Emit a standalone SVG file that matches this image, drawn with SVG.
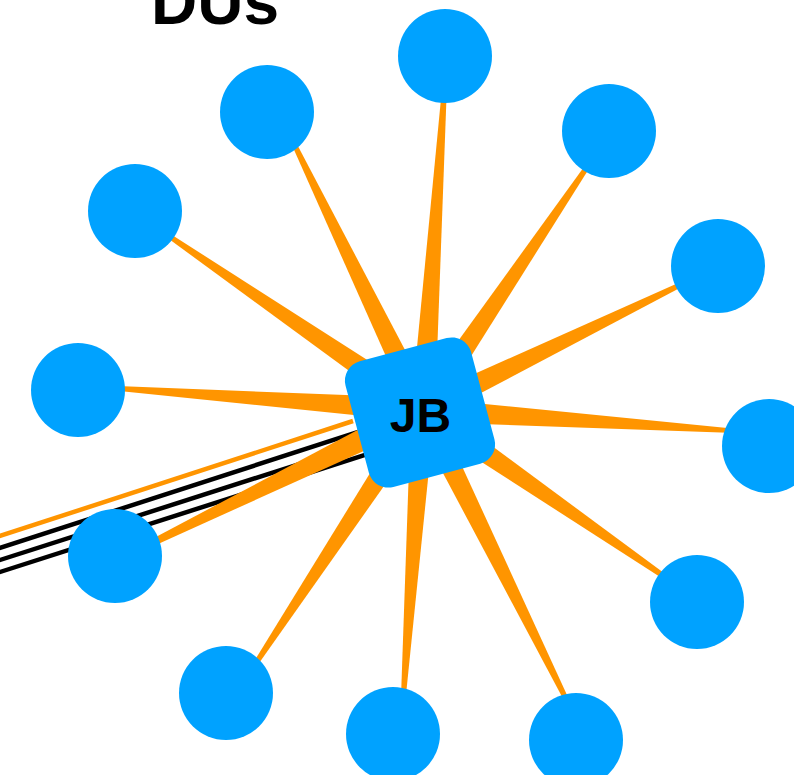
<svg xmlns="http://www.w3.org/2000/svg" width="794" height="775" viewBox="0 0 794 775">
  <style>
    .du { fill: #00A2FF; }
    .hub { fill: #00A2FF; }
    .wedge { fill: #FF9500; }
    .link { stroke: #000000; stroke-width: 4.5; fill: none; }
    .link-o { stroke: #FF9500; stroke-width: 4.5; fill: none; }
    .label { font-family: "Liberation Sans", Arial, Helvetica, sans-serif; font-weight: bold; fill: #000000; }
  </style>

  <rect width="794" height="775" fill="#ffffff"/>

  <text class="label" x="151" y="24" font-size="64">DUs</text>

  <g id="connectors">
    <!-- lines leaving to the left -->
    <line class="link" x1="-5" y1="549.6" x2="400" y2="418.4"/>
    <line class="link" x1="-5" y1="561.6" x2="400" y2="431.8"/>
    <line class="link" x1="-5" y1="573.6" x2="400" y2="443.7"/>
    <line class="link-o" x1="-5" y1="537.6" x2="353" y2="421"/>

    <!-- tapered spokes from JB to each DU, drawn along +x then rotated -->
    <g class="wedge">
      <polygon transform="translate(423,410) rotate(-86.19)" points="0,-12 336,-2 336,2 0,12"/>
      <polygon transform="translate(423,410) rotate(-115.86)" points="0,-12 309,-2 309,2 0,12"/>
      <polygon transform="translate(423,410) rotate(-55.98)" points="0,-12 310,-2 310,2 0,12"/>
      <polygon transform="translate(423,410) rotate(-145.58)" points="0,-12 324,-2 324,2 0,12"/>
      <polygon transform="translate(423,410) rotate(-25.94)" points="0,-12 304,-2 304,2 0,12"/>
      <polygon transform="translate(423,410) rotate(-175.97)" points="0,-12 319,-2 319,2 0,12"/>
      <polygon transform="translate(423,410) rotate(3.83)" points="0,-12 320,-2 320,2 0,12"/>
      <polygon transform="translate(423,410) rotate(153.87)" points="0,-13 315,-3 315,3 0,13"/>
      <polygon transform="translate(423,410) rotate(34.61)" points="0,-12 314,-2 314,2 0,12"/>
      <polygon transform="translate(423,410) rotate(123.43)" points="0,-12 320,-2 320,2 0,12"/>
      <polygon transform="translate(423,410) rotate(93.91)" points="0,-12 299,-2 299,2 0,12"/>
      <polygon transform="translate(423,410) rotate(63.67)" points="0,-12 340,-2 340,2 0,12"/>
    </g>
  </g>

  <g id="du1"><circle class="du" cx="445" cy="56" r="47"/></g>
  <g id="du2"><circle class="du" cx="267" cy="112" r="47"/></g>
  <g id="du3"><circle class="du" cx="609" cy="131" r="47"/></g>
  <g id="du4"><circle class="du" cx="135" cy="211" r="47"/></g>
  <g id="du5"><circle class="du" cx="718" cy="266" r="47"/></g>
  <g id="du6"><circle class="du" cx="78" cy="390" r="47"/></g>
  <g id="du7"><circle class="du" cx="769" cy="446" r="47"/></g>
  <g id="du8"><circle class="du" cx="115" cy="556" r="47"/></g>
  <g id="du9"><circle class="du" cx="697" cy="602" r="47"/></g>
  <g id="du10"><circle class="du" cx="226" cy="693" r="47"/></g>
  <g id="du11"><circle class="du" cx="393" cy="734" r="47"/></g>
  <g id="du12"><circle class="du" cx="576" cy="740" r="47"/></g>

  <g id="jb">
    <rect class="hub" x="-65" y="-65" width="130" height="130" rx="20" ry="20" transform="translate(420,412.5) rotate(-15)"/>
    <text class="label" x="420.5" y="432" font-size="48" text-anchor="middle">JB</text>
  </g>
</svg>
